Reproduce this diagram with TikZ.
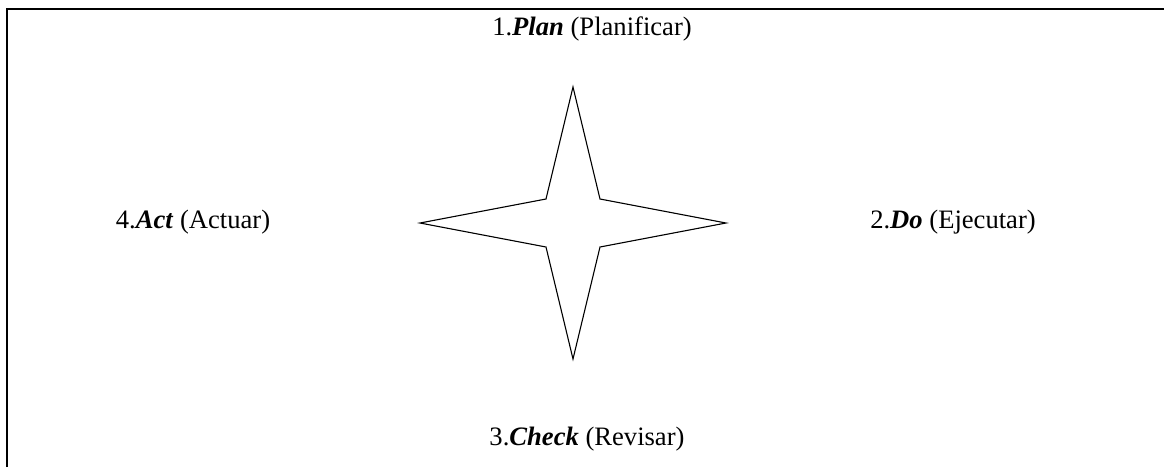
\documentclass[tikz,border=0pt]{standalone}
\usepackage{fontspec}
\setmainfont{Liberation Serif}
\usetikzlibrary{positioning,calc}

\begin{document}
\begin{tikzpicture}[x=0.5pt,y=-0.5pt,
  pdcalabel/.style={anchor=base,inner sep=0pt,font=\fontsize{13.3}{15}\selectfont},
  pdcastar/.style={draw,line width=0.55pt,line join=miter}
]
  \useasboundingbox (0,0) rectangle (1164,467);
  % frame (top and left only)
  \draw[line width=1pt] (7,467) -- (7,9) -- (1164,9);
  % four-pointed star
  \coordinate (c) at (573,223);
  \draw[pdcastar] ($(c)+(0,-136)$) -- ($(c)+(27,-24)$) -- ($(c)+(153,0)$)
    -- ($(c)+(27,24)$) -- ($(c)+(0,136)$) -- ($(c)+(-27,24)$)
    -- ($(c)+(-153,0)$) -- ($(c)+(-27,-24)$) -- cycle;
  % the four steps
  \node[pdcalabel] (plan) at (592,35) {1.\textbf{\textit{Plan}} (Planificar)};
  \node[pdcalabel] (do) at (953,228) {2.\textbf{\textit{Do}} (Ejecutar)};
  \node[pdcalabel] (check) at (587,445) {3.\textbf{\textit{Check}} (Revisar)};
  \node[pdcalabel] (act) at (193,228) {4.\textbf{\textit{Act}} (Actuar)};
\end{tikzpicture}
\end{document}
